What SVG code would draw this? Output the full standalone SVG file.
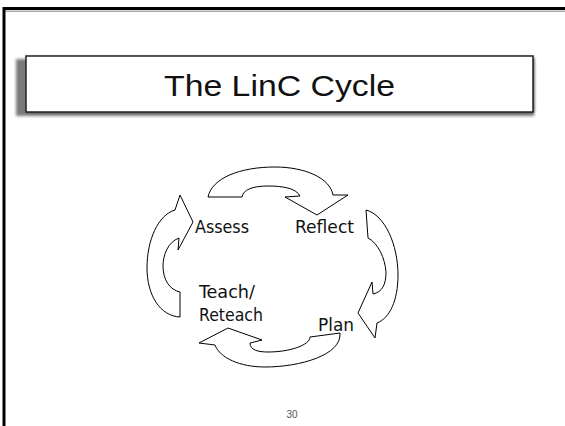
<svg xmlns="http://www.w3.org/2000/svg" width="565" height="426" viewBox="0 0 565 426">
  <defs>
    <filter id="blur" x="-5%" y="-20%" width="110%" height="140%">
      <feGaussianBlur stdDeviation="1.6"/>
    </filter>
  </defs>
  <style>
    .arrow { fill: #ffffff; stroke: #000000; stroke-width: 1; stroke-linejoin: miter; }
    .lbl { font-family: "DejaVu Sans Condensed", "DejaVu Sans", sans-serif; font-stretch: condensed; font-size: 17px; fill: #111111; }
    .title { font-family: "Liberation Sans", "DejaVu Sans", sans-serif; font-size: 30px; fill: #111111; }
    .pg { font-family: "Liberation Sans", "DejaVu Sans", sans-serif; font-size: 10px; fill: #555555; }
  </style>
  <rect x="0" y="0" width="565" height="426" fill="#ffffff"/>
  <!-- slide frame -->
  <g id="frame">
    <line x1="5" y1="11.2" x2="565" y2="11.2" stroke="#aaaaaa" stroke-width="1.4"/>
    <rect x="4" y="8.5" width="600" height="450" fill="none" stroke="#000000" stroke-width="3"/>
  </g>
  <!-- title -->
  <g id="title">
    <rect x="16" y="59" width="518" height="57" fill="#7a7a7a" filter="url(#blur)"/>
    <rect x="27" y="57" width="507" height="56" fill="#555555" filter="url(#blur)"/>
    <rect x="26" y="56" width="507" height="56" fill="#ffffff" stroke="#222222" stroke-width="1.5"/>
    <text class="title" x="279.5" y="96" text-anchor="middle" textLength="231" lengthAdjust="spacingAndGlyphs">The LinC Cycle</text>
  </g>
  <!-- connectors: curved block arrows -->
  <g id="connectors">
    <path id="arrow-assess-reflect" class="arrow" d="M208,197 C212,178 240,167 275,167 C305,167 330,178 333,195 L348,195 L317,215 L285,197 L300,196 C296,188 282,186 268,186 C252,186 243,190 242,197 Z"/>
    <path id="arrow-reflect-plan" class="arrow" d="M366,210 C385,215 398,245 398,275 C398,300 390,318 377,323 L375,338 L358,313 L372,282 L373,294 C382,292 386,285 386,272 C385,258 378,243 368,238 Z"/>
    <path id="arrow-plan-teach" class="arrow" d="M340,333 C342,355 300,367 265,367 C240,367 220,358 215,345 L199,343 L228,328 L262,340 L250,343 C250,350 258,352 268,352 C290,352 310,345 310,337 Z"/>
    <path id="arrow-teach-assess" class="arrow" d="M180,317 C160,316 147,295 147,268 C147,240 158,215 175,210 L180,195 L193,222 L178,250 L179,238 C168,242 163,255 163,266 C163,280 170,290 180,292 Z"/>
  </g>
  <!-- nodes -->
  <g id="node-assess">
    <text class="lbl" x="195" y="233" textLength="54" lengthAdjust="spacingAndGlyphs">Assess</text>
  </g>
  <g id="node-reflect">
    <text class="lbl" x="295" y="233" textLength="59" lengthAdjust="spacingAndGlyphs">Reflect</text>
  </g>
  <g id="node-plan">
    <text class="lbl" x="318" y="331" textLength="36" lengthAdjust="spacingAndGlyphs">Plan</text>
  </g>
  <g id="node-teach">
    <text class="lbl" x="199" y="298" textLength="56" lengthAdjust="spacingAndGlyphs">Teach/</text>
    <text class="lbl" x="199" y="321" textLength="64" lengthAdjust="spacingAndGlyphs">Reteach</text>
  </g>
  <g id="page-number">
    <text class="pg" x="292" y="418" text-anchor="middle">30</text>
  </g>
</svg>
